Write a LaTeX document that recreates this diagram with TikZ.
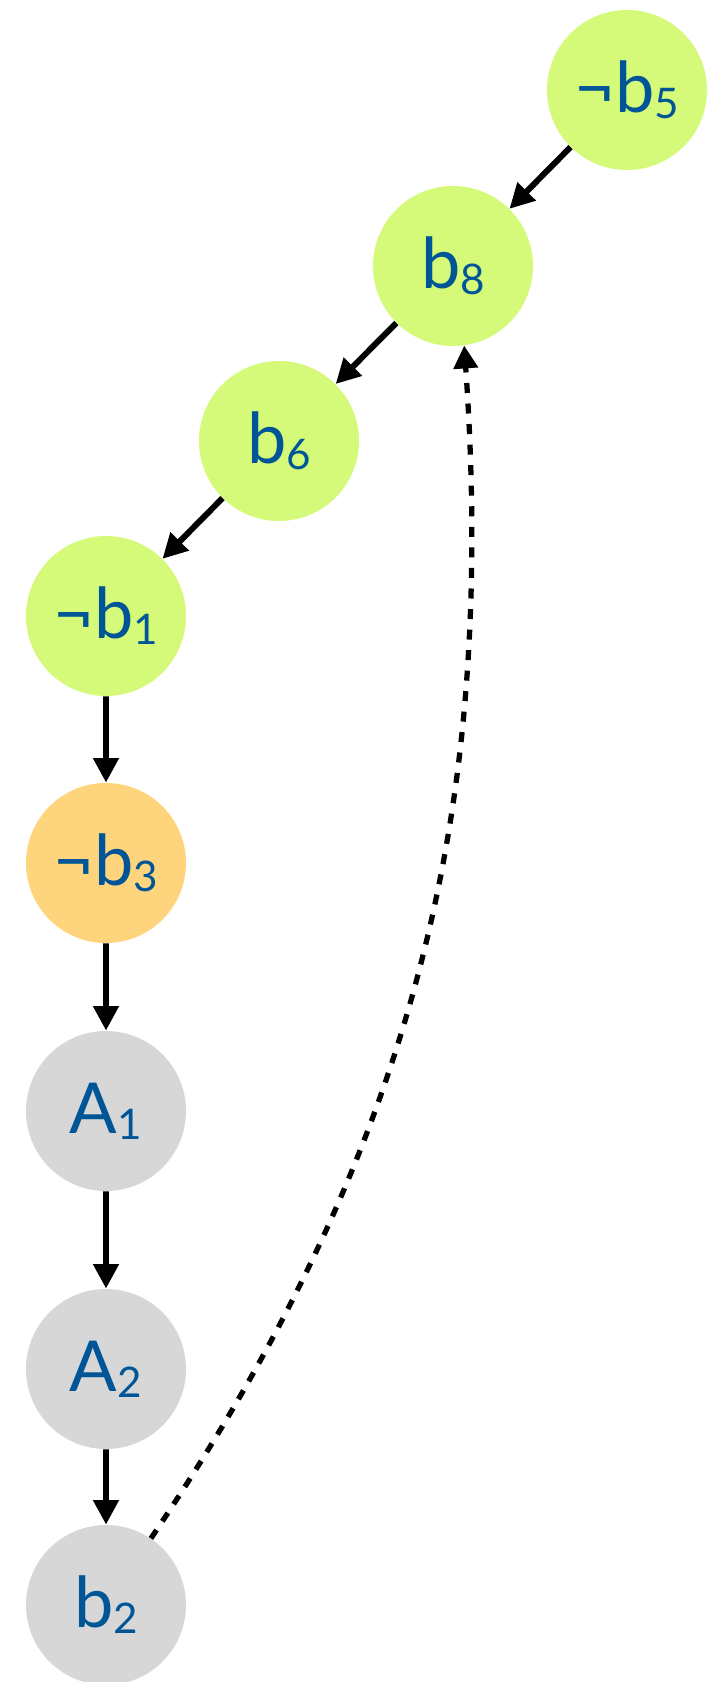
\documentclass[tikz,border=0pt]{standalone}
\usepackage{fontspec}
\setmainfont{Lato}
\usetikzlibrary{arrows.meta}
\definecolor{litgreen}{RGB}{213,250,122}
\definecolor{litorange}{RGB}{254,212,125}
\definecolor{litgray}{RGB}{215,215,215}
\definecolor{litblue}{RGB}{0,85,150}
\newcommand{\lowdig}[1]{{\fontsize{24}{24}\selectfont\raisebox{-3.4pt}{#1}}}

\begin{document}
\begin{tikzpicture}[scale=0.2,
		lit/.style={circle, minimum size=3.2cm, inner sep=0pt, text=litblue, font=\fontsize{40}{48}\selectfont},
		imp/.style={black, line width=3.4pt, -{Triangle[length=14pt,width=14pt]}},
		conflict/.style={black, line width=3pt, dash pattern=on 5.7pt off 6pt, -{Triangle[length=13pt,width=13.5pt]}}]
		\useasboundingbox (0,0) rectangle (72.3,-168.2);
		\node [lit, fill=litgreen] (n5) at (62.7,-9.0) {¬b\lowdig{5}};
		\node [lit, fill=litgreen] (b8) at (45.3,-26.6) {b\lowdig{8}};
		\node [lit, fill=litgreen] (b6) at (27.9,-44.1) {b\lowdig{6}};
		\node [lit, fill=litgreen] (n1) at (10.6,-61.6) {¬b\lowdig{1}};
		\node [lit, fill=litorange] (n3) at (10.6,-86.3) {¬b\lowdig{3}};
		\node [lit, fill=litgray] (a1) at (10.6,-111.1) {A\lowdig{1}};
		\node [lit, fill=litgray] (a2) at (10.6,-136.9) {A\lowdig{2}};
		\node [lit, fill=litgray] (b2) at (10.6,-160.5) {b\lowdig{2}};
		\draw [imp] (n5) -- (b8);
		\draw [imp] (b8) -- (b6);
		\draw [imp] (b6) -- (n1);
		\draw [imp] (n1) -- (n3);
		\draw [imp] (n3) -- (a1);
		\draw [imp] (a1) -- (a2);
		\draw [imp] (a2) -- (b2);
		\draw [conflict] (b2.56) .. controls +(56:46.8) and +(-86:46.8) .. (b8.-82);
\end{tikzpicture}
\end{document}
